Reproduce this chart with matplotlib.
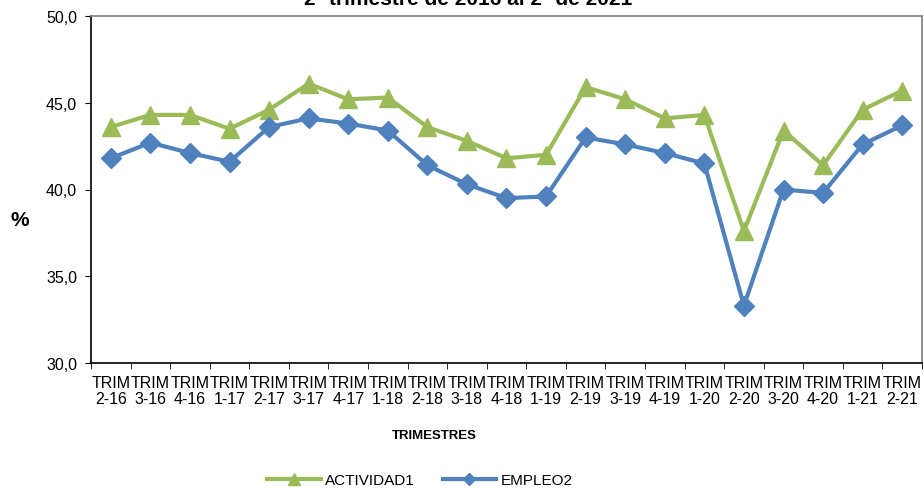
import matplotlib
matplotlib.use("Agg")
import matplotlib.pyplot as plt
import numpy as np

plt.rcParams['font.family'] = ['Liberation Sans', 'DejaVu Sans']

categories = ["2-16", "3-16", "4-16", "1-17", "2-17", "3-17", "4-17", "1-18", "2-18", "3-18", "4-18",
              "1-19", "2-19", "3-19", "4-19", "1-20", "2-20", "3-20", "4-20", "1-21", "2-21"]
actividad = [43.6, 44.3, 44.3, 43.5, 44.6, 46.1, 45.2, 45.3, 43.6, 42.8, 41.8,
             42.0, 45.9, 45.2, 44.1, 44.3, 37.6, 43.4, 41.4, 44.6, 45.7]
empleo = [41.8, 42.7, 42.1, 41.6, 43.6, 44.1, 43.8, 43.4, 41.4, 40.3, 39.5,
          39.6, 43.0, 42.6, 42.1, 41.5, 33.3, 40.0, 39.8, 42.6, 43.7]
yticks = [30.0, 35.0, 40.0, 45.0, 50.0]

W, H = 924, 489
fig = plt.figure(figsize=(W / 100, H / 100), dpi=100)
ax = fig.add_axes([91 / W, 1 - 364 / H, (922 - 91) / W, 347 / H])

x = np.arange(len(categories))
green = '#9BBB59'
blue = '#4F81BD'
ax.plot(x, actividad, color=green, lw=3, marker='^', markersize=13.5, label='ACTIVIDAD1', zorder=3)
ax.plot(x, empleo, color=blue, lw=3, marker='D', markersize=10, label='EMPLEO2', zorder=4)

ax.set_xlim(-0.5, len(categories) - 0.5)
ax.set_ylim(30, 50)
ax.set_yticks(yticks)
ax.set_yticklabels([f"{v:.1f}".replace('.', ',') for v in yticks], fontsize=11.5)
ax.set_xticks(x)
ax.set_xticklabels(["TRIM\n" + c for c in categories], fontsize=11.5, linespacing=1.05)
ax.set_xticks(np.arange(-0.5, len(categories), 1), minor=True)
ax.tick_params(axis='x', which='major', length=0, pad=9)
ax.tick_params(axis='x', which='minor', length=4, direction='out', color='black')
ax.tick_params(axis='y', length=4, direction='out', pad=6)

for s in ['left', 'bottom']:
    ax.spines[s].set_color('black')
    ax.spines[s].set_linewidth(1.2)
for s in ['top', 'right']:
    ax.spines[s].set_color('#808080')
    ax.spines[s].set_linewidth(1.2)

fig.text(20 / W, 1 - 221 / H, '%', fontsize=15, fontweight='bold', ha='center', va='center')
fig.text(434 / W, 1 - 436 / H, 'TRIMESTRES', fontsize=9.5, fontweight='bold', ha='center', va='center')
fig.text(468 / W, 1 - 5 / H, '2º trimestre de 2016 al 2º de 2021', fontsize=15, fontweight='bold',
         ha='center', va='baseline')

fig.legend(loc='center', bbox_to_anchor=(420 / W, 1 - 481 / H), ncol=2, frameon=False,
           fontsize=11, handlelength=3.5, handletextpad=0.3, columnspacing=1.8, markerscale=0.6)

fig.savefig('out.png', dpi=100)
